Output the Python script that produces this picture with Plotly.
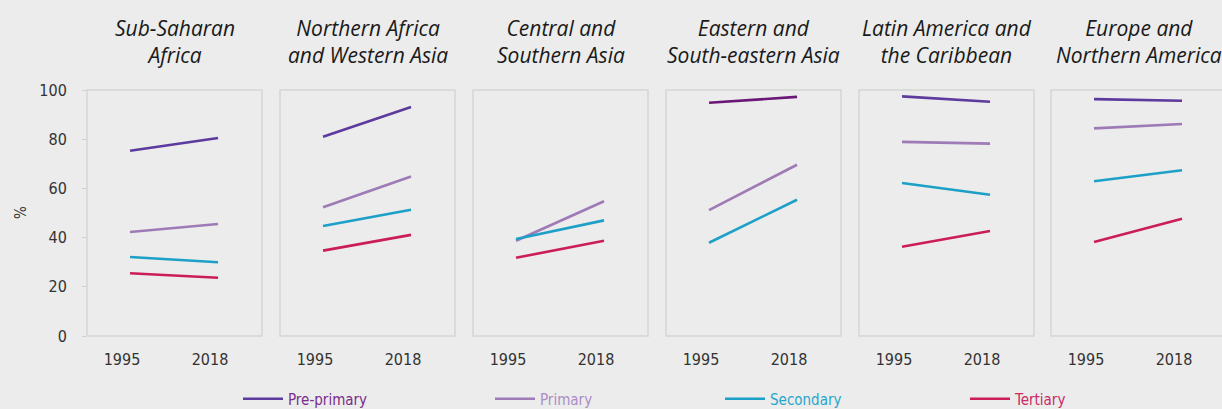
import plotly.graph_objects as go

regions = ["Sub-Saharan<br>Africa", "Northern Africa<br>and Western Asia", "Central and<br>Southern Asia",
           "Eastern and<br>South-eastern Asia", "Latin America and<br>the Caribbean", "Europe and<br>Northern America"]
years = ["1995", "2018"]
levels = ["Pre-primary", "Primary", "Secondary", "Tertiary"]

# values per region: [1995, 2018]; None = not shown
pre_primary = [[75.3, 80.5], [81.0, 93.1], None, [94.8, 97.2], [97.4, 95.2], [96.3, 95.6]]
primary = [[42.3, 45.5], [52.3, 64.8], [38.7, 54.8], [51.2, 69.6], [78.9, 78.2], [84.4, 86.2]]
secondary = [[32.1, 30.0], [44.7, 51.3], [39.4, 47.0], [37.9, 55.4], [62.2, 57.4], [62.9, 67.4]]
tertiary = [[25.5, 23.7], [34.7, 41.1], [31.8, 38.7], None, [36.3, 42.7], [38.2, 47.7]]

series = [pre_primary, primary, secondary, tertiary]
colors = ["#5d3a9d", "#9e7ab7", "#1da0c8", "#cc1d5b"]
legend_text_colors = ["#7b2b8c", "#ad8cc6", "#27a6cc", "#cc2a64"]
panel4_pre_color = "#6b1777"

W, H = 1222, 409
panel_left = [87, 280, 473, 666, 859, 1051]
panel_w = 175
box_top, box_bot = 90, 336
legend_x = [238, 490, 720, 965]
legend_ids = ["legend", "legend2", "legend3", "legend4"]
cond = "DejaVu Sans Condensed, Liberation Sans Narrow, Roboto"

fig = go.Figure()
bg = "#ebeceb"
box_col = "#d5d6d5"

for i in range(6):
    xa = "x" if i == 0 else f"x{i+1}"
    ya = "y" if i == 0 else f"y{i+1}"
    for s, (vals, col) in enumerate(zip(series, colors)):
        v = vals[i]
        if v is None:
            continue
        c = col
        if s == 0 and i == 3:
            c = panel4_pre_color
        fig.add_trace(go.Scatter(
            x=[0, 1], y=v, mode="lines", line=dict(color=c, width=2.6),
            xaxis=xa, yaxis=ya, showlegend=(i == 0), legend=legend_ids[s],
            name=f"<span style='color:{legend_text_colors[s]}'>{levels[s]}</span>",
            legendgroup=levels[s], hoverinfo="skip"))

layout = dict(
    width=W, height=H, paper_bgcolor=bg, plot_bgcolor=bg,
    margin=dict(l=0, r=0, t=0, b=0, autoexpand=False), autosize=False,
    showlegend=True,
)
for s, lid in enumerate(legend_ids):
    layout[lid] = dict(orientation="h", x=legend_x[s] / W, xanchor="left", y=1 - 399 / H, yanchor="middle",
                       font=dict(family=cond, size=15), bgcolor="rgba(0,0,0,0)", itemwidth=40)
shapes = []
annotations = []
for i in range(6):
    left = panel_left[i]
    right = min(left + panel_w, W)
    xkey = "xaxis" if i == 0 else f"xaxis{i+1}"
    ykey = "yaxis" if i == 0 else f"yaxis{i+1}"
    r0 = -0.489
    r1 = r0 + (right - left) / 88.0
    layout[xkey] = dict(domain=[left / W, right / W], range=[r0, r1], tickvals=[0, 1], ticktext=years,
                        showgrid=False, zeroline=False, showline=False, ticks="",
                        ticklabelshift=-8, ticklabelstandoff=12, automargin=False,
                        tickfont=dict(family=cond, size=16, color="#333333"),
                        anchor="y" if i == 0 else f"y{i+1}", fixedrange=True)
    layout[ykey] = dict(domain=[1 - box_bot / H, 1 - box_top / H], range=[0, 100],
                        tickvals=[0, 20, 40, 60, 80, 100], showgrid=False, zeroline=False, showline=False,
                        showticklabels=(i == 0), ticks="outside" if i == 0 else "", ticklen=4, tickcolor="#cfd0cf",
                        ticklabelstandoff=12, automargin=False,
                        tickfont=dict(family=cond, size=16, color="#333333"),
                        anchor="x" if i == 0 else f"x{i+1}", fixedrange=True)
    # panel frame (last one runs past the right edge of the page)
    shapes.append(dict(type="rect", xref="paper", yref="paper",
                       x0=left / W, x1=(left + panel_w) / W, y0=1 - box_bot / H, y1=1 - box_top / H,
                       line=dict(color=box_col, width=1.5), fillcolor="rgba(0,0,0,0)", layer="below"))
    cx = (left + left + panel_w) / 2
    annotations.append(dict(text=regions[i], x=cx / W, y=1 - 41.5 / H, xref="paper", yref="paper",
                            xanchor="center", yanchor="middle", showarrow=False,
                            font=dict(family="Open Sans", size=21, color="#1a1a1a", style="italic")))

annotations.append(dict(text="%", x=21 / W, y=1 - 213 / H, xref="paper", yref="paper", textangle=-90,
                        showarrow=False, xanchor="center", yanchor="middle",
                        font=dict(family=cond, size=15, color="#333333")))
layout["shapes"] = shapes
layout["annotations"] = annotations
fig.update_layout(**layout)
fig.write_html("out.html", config={"displayModeBar": False},
               post_script="document.body.style.margin='0';document.body.style.overflow='hidden';")
